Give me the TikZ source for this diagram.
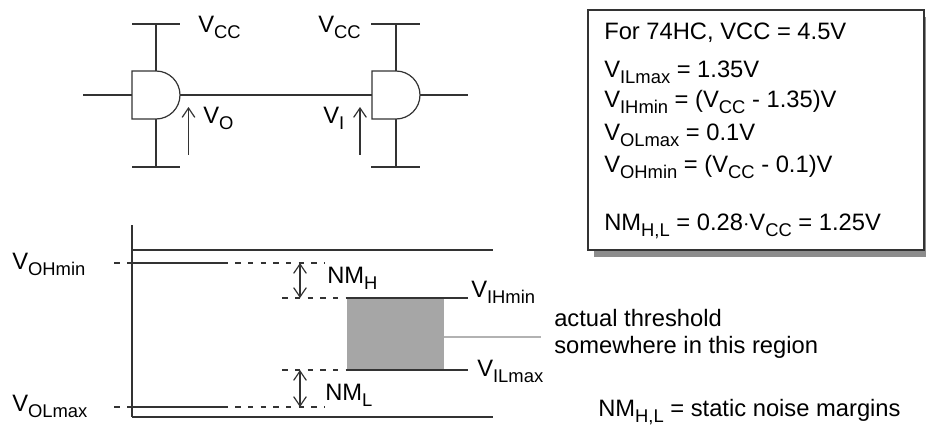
\documentclass[tikz,border=0pt]{standalone}
\usepackage{fontspec}
\setmainfont{Liberation Sans}
\usetikzlibrary{arrows.meta}

\newcommand{\lowtxt}[1]{\raisebox{-0.5ex}{\fontsize{13.8}{15}\selectfont #1}}
\tikzset{
    wire/.style={black!80, line width=0.9pt},
    dashwire/.style={black!80, line width=0.9pt, dash pattern=on 4pt off 5.5pt, dash phase=4pt},
    lbl/.style={anchor=base west, inner sep=0pt, font=\fontsize{17.8}{20}\selectfont},
    tip/.style={wire, {Straight Barb[length=7pt,width=9.5pt]}-},
    tips/.style={wire, {Straight Barb[length=7pt,width=9.5pt]}-{Straight Barb[length=7pt,width=9.5pt]}}
}

\begin{document}
\begin{tikzpicture}[x=0.75pt,y=-0.75pt]
    \useasboundingbox (0,0) rectangle (926,425);

    % Left gate
    \draw[wire] (132,71) -- (156,71) arc(-90:90:24) -- (132,119) -- cycle;
    \coordinate (gaout) at (180,95);
    \coordinate (gain) at (132,95);
    \coordinate (galeft) at (83,95);
    \draw[wire] (galeft) -- (gain);
    \draw[wire] (132,24) coordinate (ra) -- (180,24) coordinate (rb);
    \draw[wire] (156,24) coordinate (rc) -- (156,71) coordinate (rd);
    \draw[wire] (132,167) coordinate (re) -- (180,167) coordinate (rf);
    \draw[wire] (156,119) coordinate (rg) -- (156,167) coordinate (rh);

    % Right gate
    \draw[wire] (372,71) -- (396,71) arc(-90:90:24) -- (372,119) -- cycle;
    \coordinate (gbin) at (372,95);
    \coordinate (gbout) at (420,95);
    \coordinate (gbright) at (468,95);
    \draw[wire] (gaout) -- (gbin);
    \draw[wire] (gbout) -- (gbright);
    \draw[wire] (371,24) coordinate (sa) -- (420,24) coordinate (sb);
    \draw[wire] (396,24) coordinate (sc) -- (396,71) coordinate (sd);
    \draw[wire] (371,167) coordinate (se) -- (420,167) coordinate (sf);
    \draw[wire] (396,119) coordinate (sg) -- (396,167) coordinate (sh);

    % Voltage arrows
    \coordinate (voa) at (188.5,107);
    \coordinate (vob) at (188.5,155);
    \coordinate (via) at (360,107);
    \coordinate (vib) at (360,155);
    \draw[tip] (voa) -- (vob);
    \draw[tip] (via) -- (vib);

    \node[lbl] (vcca) at (198,32) {V\lowtxt{CC}};
    \node[lbl] (vccb) at (318,32) {V\lowtxt{CC}};
    \node[lbl] (vo) at (203,123) {V\lowtxt{O}};
    \node[lbl] (vi) at (323,123) {V\lowtxt{I}};

    % Levels
    \fill[black!35] (347,298) rectangle (444,370);
    \draw[wire] (132,225) coordinate (axa) -- (132,417) coordinate (axb);
    \draw[wire] (132,250) coordinate (topa) -- (493,250) coordinate (topb);
    \draw[wire] (axb) -- (493,417) coordinate (botb);

    \draw[dashwire] (107,263) coordinate (oha) -- (132,263) coordinate (ohb);
    \draw[wire] (ohb) -- (228,263) coordinate (ohc);
    \draw[dashwire] (ohc) -- (325,263) coordinate (ohd);
    \draw[dashwire] (107,407) coordinate (ola) -- (132,407) coordinate (olb);
    \draw[wire] (olb) -- (228,407) coordinate (olc);
    \draw[dashwire] (olc) -- (325,407) coordinate (old);

    \draw[dashwire] (275,298) coordinate (iha) -- (347,298) coordinate (ihb);
    \draw[wire] (ihb) -- (468,298) coordinate (ihc);
    \draw[dashwire] (275,370) coordinate (ila) -- (347,370) coordinate (ilb);
    \draw[wire] (ilb) -- (468,370) coordinate (ilc);

    % Noise margin arrows
    \draw[tips] (300,263) coordinate (nha) -- (300,298) coordinate (nhb);
    \draw[tips] (300,370) coordinate (nla) -- (300,407) coordinate (nlb);

    \draw[black!30, line width=0.9pt] (444,337) coordinate (tha) -- (541,337) coordinate (thb);

    \node[lbl] (vohmin) at (12,269) {V\lowtxt{OHmin}};
    \node[lbl] (volmax) at (12,411) {V\lowtxt{OLmax}};
    \node[lbl] (nmh) at (327,283) {NM\lowtxt{H}};
    \node[lbl] (nml) at (325,400) {NM\lowtxt{L}};
    \node[lbl] (vihmin) at (471,297) {V\lowtxt{IHmin}};
    \node[lbl] (vilmax) at (477,376) {V\lowtxt{ILmax}};
    \node[lbl] (acta) at (554,326) {actual threshold};
    \node[lbl] (actb) at (554,353) {somewhere in this region};
    \node[lbl] (nmnote) at (598,416.5) {NM\lowtxt{H,L} = static noise margins};

    % Box with shadow
    \fill[black!45] (594,17) rectangle (926,257);
    \draw[black!80, fill=white, line width=0.9pt] (588,10) rectangle (924,250);
    \node[lbl] (forhc) at (604,39) {For 74HC, VCC = 4.5V};
    \node[lbl] (tila) at (604,77) {V\lowtxt{ILmax} = 1.35V};
    \node[lbl] (tiha) at (604,107) {V\lowtxt{IHmin} = (V\lowtxt{CC} - 1.35)V};
    \node[lbl] (tola) at (604,140) {V\lowtxt{OLmax} = 0.1V};
    \node[lbl] (toha) at (604,172) {V\lowtxt{OHmin} = (V\lowtxt{CC} - 0.1)V};
    \node[lbl] (nmval) at (604,230) {NM\lowtxt{H,L} = 0.28$\cdot$V\lowtxt{CC} = 1.25V};
\end{tikzpicture}
\end{document}
